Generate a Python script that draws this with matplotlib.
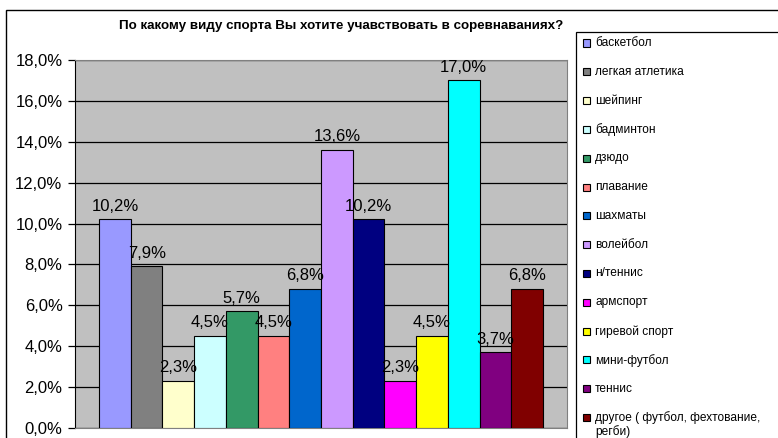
import matplotlib
matplotlib.use("Agg")
import matplotlib.pyplot as plt
from matplotlib.patches import Rectangle
from matplotlib.ticker import MultipleLocator, FuncFormatter

plt.rcParams['font.family'] = ['Liberation Sans', 'DejaVu Sans']

title = "По какому виду спорта Вы хотите учавствовать в соревнаваниях?"
sports = ["баскетбол", "легкая атлетика", "шейпинг", "бадминтон", "дзюдо",
          "плавание", "шахматы", "волейбол", "н/теннис", "армспорт",
          "гиревой спорт", "мини-футбол", "теннис",
          "другое ( футбол, фехтование,\nрегби)"]
shares = [10.2, 7.9, 2.3, 4.5, 5.7, 4.5, 6.8, 13.6, 10.2, 2.3, 4.5, 17.0, 3.7, 6.8]
colors = ["#9999FF", "#808080", "#FFFFCC", "#CCFFFF", "#339966", "#FF8080",
          "#0066CC", "#CC99FF", "#000080", "#FF00FF", "#FFFF00", "#00FFFF",
          "#800080", "#800000"]

W, H = 778, 438
fig = plt.figure(figsize=(W / 100, H / 100), dpi=100)

# outer chart frame
fig.patches.append(Rectangle((6 / W, -0.01), 1.0, 1 - 10 / H + 0.01,
                             transform=fig.transFigure, fill=False,
                             edgecolor="black", linewidth=1.0))

# plot area in pixels: left 75, right 567, top 60, bottom 428
ax = fig.add_axes([75 / W, (H - 428) / H, (567 - 75) / W, (428 - 60) / H])
ax.set_facecolor("#C0C0C0")

x = list(range(len(shares)))
ax.bar(x, shares, width=1.0, color=colors, edgecolor="black", linewidth=0.8, zorder=3)
for xi, v in zip(x, shares):
    ax.text(xi, v + 0.42, f"{v:.1f}%".replace(".", ","), ha="center", va="baseline",
            fontsize=12, zorder=4)

ax.set_xlim(-0.5 - 0.76, len(shares) - 0.5 + 0.76)
ax.set_ylim(0, 18)
ax.yaxis.set_major_locator(MultipleLocator(2))
ax.yaxis.set_major_formatter(FuncFormatter(lambda v, p: f"{v:.1f}%".replace(".", ",")))
ax.grid(axis="y", color="black", linewidth=0.9, zorder=1)
ax.set_xticks([])
ax.tick_params(axis="y", labelsize=12, length=5, width=0.9, pad=4)
for side in ("top", "right"):
    ax.spines[side].set_color("#808080")
ax.spines["left"].set_color("black")
ax.spines["bottom"].set_color("#808080")

fig.text(341 / W, 1 - 26 / H, title, ha="center", va="center",
         fontsize=9.6, fontweight="bold")

# legend box
fig.patches.append(Rectangle((576 / W, -0.01), 1.0, 1 - 32 / H + 0.01,
                             transform=fig.transFigure, fill=False,
                             edgecolor="black", linewidth=0.9))
y0, step = 43, 28.8
for i, (name, c) in enumerate(zip(sports, colors)):
    yc = y0 + i * step
    fig.patches.append(Rectangle((583 / W, 1 - (yc + 3.5) / H), 7 / W, 7 / H,
                                 transform=fig.transFigure, facecolor=c,
                                 edgecolor="black", linewidth=0.8))
    fig.text(595 / W, 1 - (yc - 6) / H, name, ha="left", va="top",
             fontsize=8.6, linespacing=1.05)

fig.savefig("out.png", dpi=100)
